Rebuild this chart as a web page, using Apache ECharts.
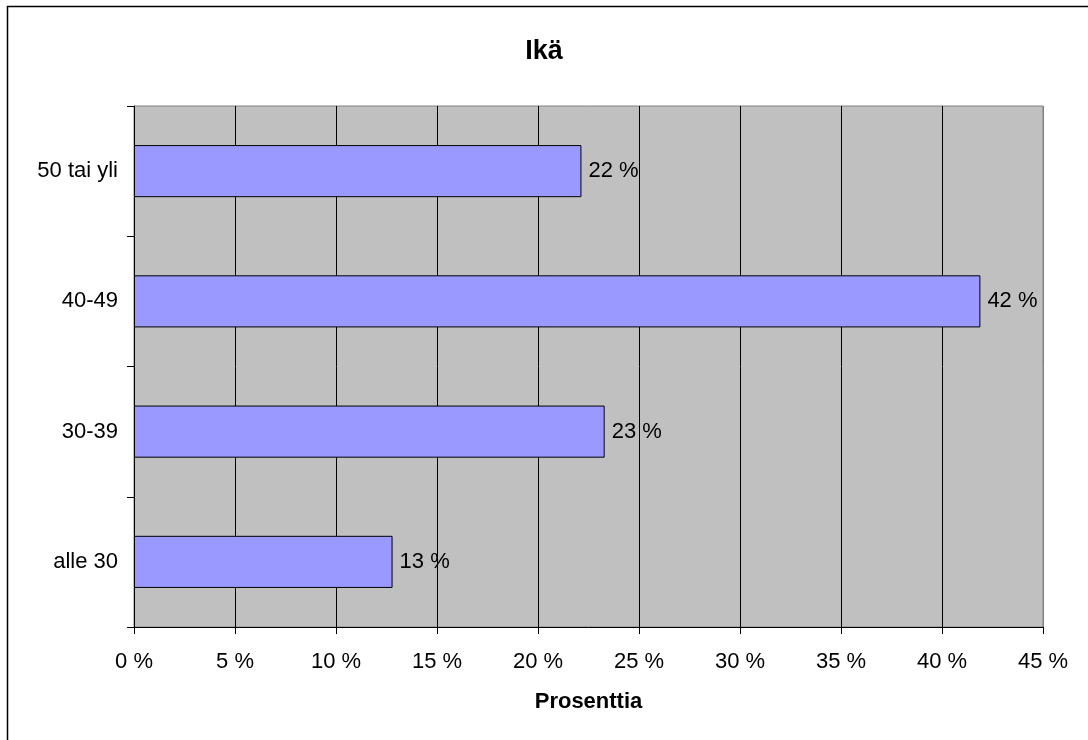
<!DOCTYPE html>
<html>
<head>
<meta charset="utf-8">
<script src="https://cdn.jsdelivr.net/npm/echarts@6/dist/echarts.min.js"></script>
<style>
  html, body { margin: 0; padding: 0; background: #fff; }
  #chart { width: 1088px; height: 740px; }
</style>
</head>
<body>
<div id="chart"></div>
<script>
// Age groups and their share of respondents (%)
const categories = ['alle 30', '30-39', '40-49', '50 tai yli'];
const shares = [12.8, 23.3, 41.9, 22.15];
const xTicks = [0, 5, 10, 15, 20, 25, 30, 35, 40, 45];

const FONT = '"Liberation Sans", Arial, sans-serif';
const chart = echarts.init(document.getElementById('chart'));

// vertical grid lines are black; the last one coincides with the grey plot border
const gridColors = xTicks.map((t, i) => (i === xTicks.length - 1 ? '#808080' : '#000000'));

chart.setOption({
  animation: false,
  backgroundColor: '#ffffff',
  graphic: [{
    // chart frame (left and top edges fall inside the page)
    type: 'polyline',
    shape: { points: [[7.5, 740], [7.5, 6.5], [1088, 6.5]] },
    style: { fill: 'none', stroke: '#000', lineWidth: 1.5 },
    silent: true
  }],
  title: {
    text: 'Ikä',
    left: 'center',
    top: 33,
    textStyle: { fontFamily: FONT, fontSize: 27, fontWeight: 'bold', color: '#000' }
  },
  grid: {
    left: 134, right: 45, top: 106, bottom: 113,
    show: true,
    backgroundColor: '#C0C0C0',
    borderColor: '#808080',
    borderWidth: 1
  },
  xAxis: {
    type: 'value',
    min: 0, max: 45, interval: 5,
    name: 'Prosenttia',
    nameLocation: 'middle',
    nameGap: 64,
    nameTextStyle: { fontFamily: FONT, fontSize: 22, fontWeight: 'bold', color: '#000' },
    axisLine: { show: true, lineStyle: { color: '#000', width: 1 } },
    axisTick: { show: true, length: 7, lineStyle: { color: '#000' } },
    axisLabel: {
      formatter: '{value} %', margin: 24,
      fontFamily: FONT, fontSize: 22, color: '#000'
    },
    splitLine: { show: true, lineStyle: { color: gridColors, width: 1 } }
  },
  yAxis: {
    type: 'category',
    data: categories,
    boundaryGap: true,
    axisLine: { show: true, lineStyle: { color: '#000', width: 1 } },
    axisTick: { show: true, length: 7, interval: 0, lineStyle: { color: '#000' } },
    axisLabel: { margin: 16, fontFamily: FONT, fontSize: 22, color: '#000' },
    splitLine: { show: false }
  },
  series: [{
    type: 'bar',
    data: shares,
    barWidth: '40%',
    itemStyle: { color: '#9999FF', borderColor: '#000', borderWidth: 1 },
    label: {
      show: true,
      position: 'right',
      distance: 7,
      formatter: p => Math.round(p.value) + ' %',
      fontFamily: FONT, fontSize: 22, color: '#000'
    }
  }]
});
</script>
</body>
</html>
